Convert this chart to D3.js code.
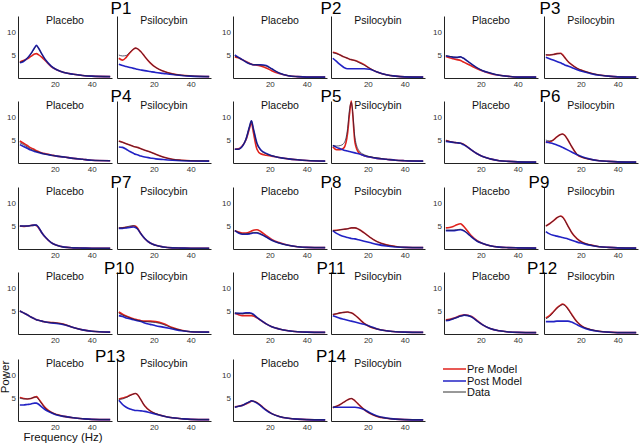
<!DOCTYPE html>
<html><head><meta charset="utf-8">
<script src="https://cdn.jsdelivr.net/npm/d3@7"></script>
<style>body{margin:0;background:#fff}svg{display:block;font-family:"Liberation Sans",Arial,sans-serif}</style>
</head><body><svg id="c" width="640" height="445"></svg>
<script>
const participants = ["P1","P2","P3","P4","P5","P6","P7","P8","P9","P10","P11","P12","P13","P14"];
const conditions = ["Placebo","Psilocybin"];
const freqs = [1,3,5,7,9,10,11,13,15,18,21,25,30,35,40,50];
const xTicks = [20,40];
const yTicks = [5,10];
const legendLabels = ["Pre Model","Post Model","Data"];

const dataPlacebo = [
[3.4,3.7,4.3,5.2,6.5,7.0,6.6,5.1,3.9,2.6,1.8,1.2,0.8,0.55,0.4,0.3],
[4.8,4.4,4.0,3.5,3.1,3.0,2.9,2.9,2.8,2.6,2.0,1.1,0.5,0.3,0.2,0.2],
[4.9,4.7,4.6,4.5,4.6,4.4,4.2,3.6,3.0,2.2,1.6,1.1,0.6,0.35,0.2,0.2],
[4.4,4.0,3.5,3.0,2.7,2.5,2.4,2.1,1.9,1.7,1.5,1.3,1.0,0.8,0.6,0.5],
[3.0,3.0,3.6,5.2,8.0,9.2,7.5,4.2,2.8,2.0,1.6,1.2,0.9,0.7,0.55,0.4],
[4.8,4.7,4.5,4.4,4.3,4.2,4.0,3.4,2.8,2.0,1.4,0.9,0.5,0.35,0.25,0.2],
[5.0,5.0,5.0,5.1,5.2,5.2,4.8,3.5,2.5,1.4,0.8,0.4,0.25,0.2,0.15,0.15],
[4.0,3.6,3.3,3.3,3.4,3.5,3.6,3.6,3.3,2.6,1.9,1.3,0.8,0.5,0.35,0.3],
[4.1,4.1,4.1,4.2,4.3,4.2,4.0,3.3,2.6,1.7,1.2,0.7,0.4,0.3,0.25,0.2],
[5.0,4.6,4.2,3.7,3.3,3.1,3.0,2.8,2.6,2.5,2.4,2.1,1.4,0.9,0.6,0.4],
[4.6,4.5,4.4,4.5,4.5,4.4,4.2,3.6,3.0,2.2,1.6,1.1,0.7,0.5,0.4,0.35],
[3.0,3.1,3.3,3.6,3.9,4.0,4.1,4.0,3.7,2.8,2.0,1.2,0.7,0.45,0.35,0.3],
[5.0,4.8,4.8,4.9,5.2,5.2,4.8,3.7,2.7,1.9,1.4,1.0,0.7,0.5,0.35,0.3],
[3.0,3.2,3.4,3.8,4.2,4.4,4.3,4.0,3.4,2.4,1.6,1.0,0.6,0.4,0.3,0.25]];

const prePlacebo = [
[3.5,3.8,4.2,4.7,5.2,5.3,5.1,4.5,3.7,2.5,1.8,1.2,0.8,0.55,0.4,0.3],
[4.6,4.4,4.0,3.6,3.2,3.0,2.9,2.8,2.6,2.2,1.6,1.0,0.5,0.3,0.2,0.2],
[4.7,4.4,4.2,4.0,3.8,3.6,3.4,3.0,2.6,2.0,1.5,1.0,0.6,0.35,0.2,0.2],
[4.8,4.3,3.8,3.3,2.9,2.7,2.5,2.2,2.0,1.75,1.5,1.3,1.0,0.8,0.6,0.5],
[3.0,3.1,3.7,5.0,7.6,8.8,6.8,3.0,2.0,1.7,1.5,1.2,0.9,0.7,0.55,0.4],
[4.9,4.7,4.5,4.4,4.3,4.2,4.0,3.4,2.8,2.0,1.4,0.9,0.5,0.35,0.25,0.2],
[5.0,4.9,5.0,5.1,5.2,5.1,4.7,3.5,2.5,1.4,0.8,0.4,0.25,0.2,0.15,0.15],
[4.0,3.7,3.5,3.5,3.7,3.9,4.1,4.2,3.8,2.9,2.1,1.4,0.8,0.5,0.35,0.3],
[4.6,4.7,4.9,5.3,5.5,5.2,4.8,3.8,2.8,1.8,1.2,0.7,0.4,0.3,0.25,0.2],
[5.0,4.6,4.2,3.7,3.3,3.1,3.0,2.8,2.6,2.5,2.4,2.1,1.4,0.9,0.6,0.4],
[4.5,4.2,4.0,4.0,4.0,4.0,3.9,3.5,3.0,2.2,1.6,1.1,0.7,0.5,0.4,0.35],
[3.1,3.2,3.4,3.7,4.0,4.1,4.2,4.1,3.8,2.9,2.0,1.2,0.7,0.45,0.35,0.3],
[5.1,4.9,4.8,4.9,5.2,5.3,4.9,3.8,2.8,1.9,1.4,1.0,0.7,0.5,0.35,0.3],
[3.1,3.2,3.4,3.7,4.1,4.3,4.3,4.0,3.4,2.4,1.6,1.0,0.6,0.4,0.3,0.25]];

const postPlacebo = [
[3.3,3.6,4.3,5.3,6.6,7.1,6.6,5.2,3.9,2.6,1.8,1.2,0.8,0.55,0.4,0.3],
[5.0,4.5,4.0,3.5,3.1,3.0,2.9,2.9,2.9,2.7,2.0,1.1,0.5,0.3,0.2,0.2],
[4.8,4.7,4.5,4.5,4.6,4.4,4.2,3.6,3.0,2.2,1.6,1.1,0.6,0.35,0.2,0.2],
[4.0,3.6,3.2,2.8,2.5,2.4,2.3,2.1,1.9,1.7,1.5,1.3,1.0,0.8,0.6,0.5],
[3.0,3.0,3.6,5.1,8.0,9.2,7.6,4.3,2.9,2.1,1.6,1.2,0.9,0.7,0.55,0.4],
[4.7,4.6,4.5,4.4,4.3,4.1,3.9,3.4,2.8,2.0,1.4,0.9,0.5,0.35,0.25,0.2],
[5.0,5.0,5.0,5.1,5.2,5.2,4.8,3.5,2.5,1.4,0.8,0.4,0.25,0.2,0.15,0.15],
[4.0,3.5,3.2,3.2,3.3,3.4,3.5,3.5,3.2,2.6,1.9,1.3,0.8,0.5,0.35,0.3],
[4.0,4.0,4.0,4.1,4.2,4.1,3.9,3.3,2.6,1.7,1.2,0.7,0.4,0.3,0.25,0.2],
[5.0,4.6,4.2,3.7,3.3,3.1,3.0,2.8,2.6,2.4,2.3,2.0,1.4,0.9,0.6,0.4],
[4.5,4.5,4.5,4.6,4.6,4.5,4.3,3.6,3.0,2.2,1.6,1.1,0.7,0.5,0.4,0.35],
[2.9,3.0,3.3,3.6,3.9,4.0,4.1,4.0,3.7,2.8,2.0,1.2,0.7,0.45,0.35,0.3],
[3.5,3.5,3.6,3.7,3.9,3.9,3.7,3.0,2.4,1.8,1.3,1.0,0.7,0.5,0.35,0.3],
[3.0,3.2,3.4,3.8,4.2,4.4,4.3,3.9,3.3,2.3,1.6,1.0,0.6,0.4,0.3,0.25]];

const dataPsilocybin = [
[5.0,4.8,4.9,5.6,6.3,6.5,6.4,5.7,4.7,3.3,2.3,1.5,0.9,0.6,0.45,0.3],
[5.5,5.3,5.0,4.6,4.3,4.1,4.0,3.8,3.4,2.8,2.1,1.3,0.7,0.4,0.25,0.2],
[5.1,5.0,5.1,5.3,5.3,5.0,4.6,3.6,2.9,2.1,1.6,1.1,0.65,0.4,0.25,0.2],
[4.7,4.5,4.2,3.9,3.6,3.5,3.4,3.1,2.8,2.4,1.9,1.3,0.8,0.6,0.5,0.45],
[3.8,3.7,3.8,4.3,7.5,11.5,13.2,5.5,2.8,1.8,1.4,1.1,0.8,0.6,0.5,0.4],
[5.0,4.8,5.0,5.7,6.2,6.3,6.1,5.0,3.6,1.9,1.2,0.8,0.5,0.35,0.25,0.2],
[4.6,4.6,4.8,5.0,5.1,4.9,4.5,3.3,2.3,1.3,0.8,0.45,0.25,0.2,0.15,0.15],
[4.0,4.0,4.2,4.3,4.4,4.5,4.6,4.6,4.3,3.5,2.6,1.6,0.9,0.55,0.35,0.3],
[5.0,5.5,6.1,6.8,7.1,6.9,6.4,5.0,3.6,2.2,1.4,0.9,0.5,0.35,0.25,0.2],
[4.5,4.1,3.8,3.5,3.2,3.1,3.0,2.8,2.7,2.6,2.5,2.1,1.3,0.8,0.5,0.4],
[4.3,4.4,4.6,4.7,4.8,4.7,4.6,4.1,3.4,2.3,1.6,1.1,0.7,0.5,0.4,0.35],
[3.3,3.8,4.7,5.6,6.2,6.4,6.3,5.4,4.2,2.6,1.6,1.0,0.6,0.4,0.3,0.3],
[4.7,4.8,5.1,5.5,5.9,6.0,5.8,4.6,3.3,2.2,1.6,1.1,0.7,0.5,0.35,0.3],
[3.0,3.2,3.6,4.1,4.6,4.8,4.9,4.4,3.6,2.5,1.7,1.0,0.6,0.4,0.3,0.25]];

const prePsilocybin = [
[4.3,3.9,4.5,5.5,6.3,6.5,6.4,5.7,4.7,3.3,2.3,1.5,0.9,0.6,0.45,0.3],
[5.6,5.4,5.0,4.6,4.3,4.1,4.0,3.8,3.5,2.9,2.1,1.3,0.7,0.4,0.25,0.2],
[5.0,5.0,5.1,5.3,5.4,5.1,4.6,3.6,2.9,2.1,1.6,1.1,0.65,0.4,0.25,0.2],
[4.8,4.5,4.2,3.9,3.6,3.5,3.4,3.1,2.8,2.4,1.9,1.3,0.8,0.6,0.5,0.45],
[3.5,2.9,2.9,3.3,6.5,10.5,13.5,4.5,2.3,1.6,1.3,1.0,0.8,0.6,0.5,0.4],
[4.5,4.6,5.0,5.7,6.2,6.3,6.1,5.0,3.6,1.8,1.2,0.8,0.5,0.35,0.25,0.2],
[4.5,4.6,4.7,4.8,5.0,5.0,4.6,3.3,2.3,1.3,0.8,0.45,0.25,0.2,0.15,0.15],
[4.0,4.1,4.2,4.3,4.4,4.5,4.6,4.6,4.3,3.5,2.6,1.6,0.9,0.55,0.35,0.3],
[5.0,5.5,6.1,6.8,7.2,7.0,6.5,5.0,3.6,2.2,1.4,0.9,0.5,0.35,0.25,0.2],
[4.8,4.3,3.9,3.6,3.3,3.2,3.1,2.9,2.8,2.8,2.7,2.3,1.4,0.8,0.5,0.4],
[4.2,4.4,4.6,4.7,4.8,4.7,4.6,4.1,3.4,2.3,1.6,1.1,0.7,0.5,0.4,0.35],
[3.5,4.0,4.8,5.7,6.3,6.5,6.4,5.5,4.3,2.6,1.6,1.0,0.6,0.4,0.3,0.3],
[4.8,5.0,5.2,5.6,5.9,6.0,5.8,4.6,3.3,2.2,1.6,1.1,0.7,0.5,0.35,0.3],
[2.9,3.2,3.6,4.1,4.6,4.8,4.9,4.4,3.6,2.5,1.7,1.0,0.6,0.4,0.3,0.25]];

const postPsilocybin = [
[3.0,2.7,2.5,2.3,2.1,2.0,1.9,1.75,1.6,1.4,1.2,1.0,0.75,0.55,0.4,0.3],
[4.3,3.6,2.9,2.3,2.0,2.0,2.0,2.0,2.0,2.0,1.9,1.3,0.7,0.4,0.25,0.2],
[4.5,4.2,3.9,3.6,3.3,3.1,2.9,2.6,2.3,1.8,1.4,1.0,0.6,0.4,0.25,0.2],
[3.5,3.4,3.0,2.5,2.1,1.9,1.8,1.5,1.3,1.1,0.9,0.75,0.6,0.5,0.45,0.4],
[3.8,3.4,3.1,2.8,2.6,2.5,2.4,2.2,2.0,1.6,1.3,1.0,0.8,0.6,0.5,0.4],
[4.6,4.4,4.2,3.9,3.6,3.4,3.2,2.8,2.4,1.8,1.3,0.85,0.5,0.35,0.25,0.2],
[4.5,4.5,4.6,4.7,4.8,4.7,4.4,3.3,2.3,1.3,0.8,0.45,0.25,0.2,0.15,0.15],
[4.0,3.4,3.0,2.7,2.5,2.4,2.3,2.2,2.0,1.7,1.4,1.0,0.65,0.45,0.35,0.3],
[3.8,3.3,3.0,2.8,2.6,2.5,2.4,2.2,1.9,1.5,1.2,0.8,0.5,0.35,0.25,0.2],
[4.0,3.8,3.5,3.3,3.1,3.0,2.9,2.7,2.4,2.1,1.8,1.5,1.1,0.7,0.5,0.4],
[4.0,3.7,3.4,3.2,3.0,2.9,2.8,2.6,2.4,2.1,1.7,1.1,0.7,0.5,0.4,0.35],
[2.7,2.7,2.7,2.8,2.8,2.8,2.8,2.8,2.6,2.0,1.4,0.9,0.55,0.4,0.3,0.3],
[4.5,3.6,3.0,2.6,2.4,2.3,2.3,2.2,2.1,1.8,1.5,1.1,0.7,0.5,0.35,0.3],
[3.0,3.0,3.0,3.0,3.0,3.0,3.0,3.0,2.9,2.5,1.8,1.1,0.65,0.4,0.3,0.25]];

// ---- layout / style ----
const RED = "#e0221c", BLUE = "#2222c4", DATA = "#1c1c3a";
const svg = d3.select("#c");
const groupLeft = [[18,117],[233,331],[444,544]];
const rowBottom = [78,163,249,334,421];
const labelY = [14,102,188,274,362];
const labelOffset = [4,0,6];
const labelShift = [0,0,0, 0,0,0, 0,0,-11, -2,0,-8, -11,0];
const pw = 94, ph = 62;

const seriesFor = [
  [prePlacebo, postPlacebo, dataPlacebo],
  [prePsilocybin, postPsilocybin, dataPsilocybin]
];

participants.forEach((name, i) => {
  const r = Math.floor(i / 3), g = i % 3;
  const bottom = rowBottom[r];
  conditions.forEach((cond, c) => {
    const left = groupLeft[g][c];
    const x = d3.scaleLinear().domain([0, 51]).range([left, left + pw]);
    const y = d3.scaleLinear().domain([0, 13.5]).range([bottom, bottom - ph]);
    const gp = svg.append("g");

    const xa = gp.append("g").attr("transform", `translate(0,${bottom})`)
      .call(d3.axisBottom(x).tickValues(xTicks).tickSize(0).tickSizeOuter(0).tickPadding(3));
    const ya = gp.append("g").attr("transform", `translate(${left},0)`)
      .call(d3.axisLeft(y).tickValues(yTicks).tickSize(0).tickSizeOuter(0).tickPadding(2)
        .tickFormat(c === 0 ? d3.format("d") : () => ""));
    [xa, ya].forEach(a => {
      a.select(".domain").attr("stroke", "#222").attr("stroke-width", 1);
      a.selectAll("text").attr("font-size", 8).attr("fill", "#333")
        .attr("font-family", '"Liberation Sans",Arial,sans-serif');
    });

    gp.append("text").attr("x", left + pw / 2).attr("y", bottom - 54)
      .attr("text-anchor", "middle").attr("font-size", 10.5).attr("fill", "#111").text(cond);

    const line = d3.line().x((d, k) => x(freqs[k])).y(d => y(d)).curve(d3.curveMonotoneX);
    const [pre, post, dat] = seriesFor[c];
    gp.append("path").attr("d", line(pre[i])).attr("fill", "none").attr("stroke", RED).attr("stroke-width", 1.6);
    gp.append("path").attr("d", line(post[i])).attr("fill", "none").attr("stroke", BLUE).attr("stroke-width", 1.6);
    gp.append("path").attr("d", line(dat[i])).attr("fill", "none").attr("stroke", DATA).attr("stroke-width", 0.9).attr("stroke-opacity", 0.8);
  });
  svg.append("text").attr("x", groupLeft[g][1] + labelOffset[g] + labelShift[i]).attr("y", labelY[r])
    .attr("text-anchor", "middle").attr("font-size", 17).attr("fill", "#000").text(name);
});

// axis titles
svg.append("text").attr("transform", "translate(9,377) rotate(-90)").attr("text-anchor", "middle")
  .attr("font-size", 11.5).attr("fill", "#111").text("Power");
svg.append("text").attr("x", 63).attr("y", 441).attr("text-anchor", "middle")
  .attr("font-size", 11.5).attr("fill", "#111").text("Frequency (Hz)");

// legend
const legendColors = [RED, BLUE, "#333"];
const legendY = [369, 381, 392];
legendLabels.forEach((lab, k) => {
  svg.append("line").attr("x1", 443).attr("x2", 466).attr("y1", legendY[k]).attr("y2", legendY[k])
    .attr("stroke", legendColors[k]).attr("stroke-width", k === 2 ? 1 : 1.5);
  svg.append("text").attr("x", 467).attr("y", legendY[k]).attr("dy", "0.35em")
    .attr("font-size", 11).attr("fill", "#111").text(lab);
});
</script></body></html>
